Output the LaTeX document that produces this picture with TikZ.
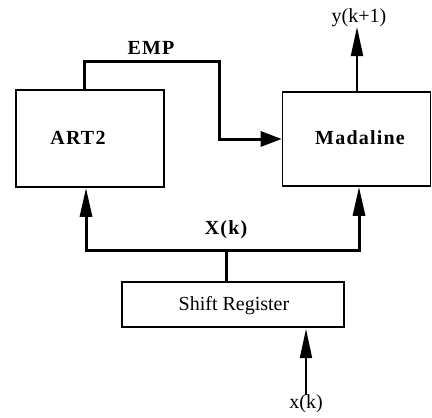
\documentclass[tikz,border=0pt]{standalone}
\usepackage{fontspec}
\setmainfont{Liberation Serif}
\newfontfamily\spacedbold[LetterSpace=6]{Liberation Serif}
\usetikzlibrary{arrows.meta}
\begin{document}
\begin{tikzpicture}[x=1bp,y=-1bp,
  box/.style={draw,line width=1.6bp,inner sep=0pt},
  bus/.style={line width=3bp},
  vtip/.style={-{Triangle[length=29bp,width=12bp]}},
  htip/.style={-{Triangle[length=21bp,width=15bp]}},
  slbl/.style={font=\fontsize{20bp}{22bp}\spacedbold\bfseries,inner sep=0pt},
  rlbl/.style={font=\fontsize{20bp}{22bp}\selectfont,inner sep=0pt}]
\useasboundingbox (0,0) rectangle (432,418);
\node[box,minimum width=148bp,minimum height=97bp] (art) at (90,138.5) {};
\node[slbl] (artt) at (78,138) {ART2};
\node[box,minimum width=148bp,minimum height=94bp] (mad) at (356.5,139) {};
\node[slbl] (madt) at (360,138) {Madaline};
\node[box,minimum width=222bp,minimum height=45bp] (sr) at (233,304.5) {};
\node[rlbl] (srt) at (234,306) {Shift Register};
\node[slbl] (emp) at (151,48) {EMP};
\node[slbl] (xbig) at (226,230) {X(k)};
\node[rlbl] (yo) at (359,18) {y(k+1)};
\node[rlbl] (xk) at (306,404) {x(k)};
\coordinate (e1) at (84,61);
\coordinate (e2) at (219,61);
\coordinate (b1) at (86,250);
\coordinate (b2) at (359,250);
\coordinate (bm) at (226,250);
\coordinate (ytop) at (357,27);
\coordinate (xtop) at (306,329);
\draw[bus,htip] (art.north -| e1) -- (e1) -- (e2) |- (mad.west);
\draw[line width=2bp,vtip] (mad.north -| ytop) -- (ytop);
\draw[bus,{Triangle[length=29bp,width=12bp]}-{Triangle[length=29bp,width=12bp]}]
  (art.south -| b1) -- (b1) -- (b2) -- (mad.south -| b2);
\draw[bus] (sr.north -| bm) -- (bm);
\draw[line width=1.6bp,vtip] (xk.north) -- (xtop);
\end{tikzpicture}
\end{document}
